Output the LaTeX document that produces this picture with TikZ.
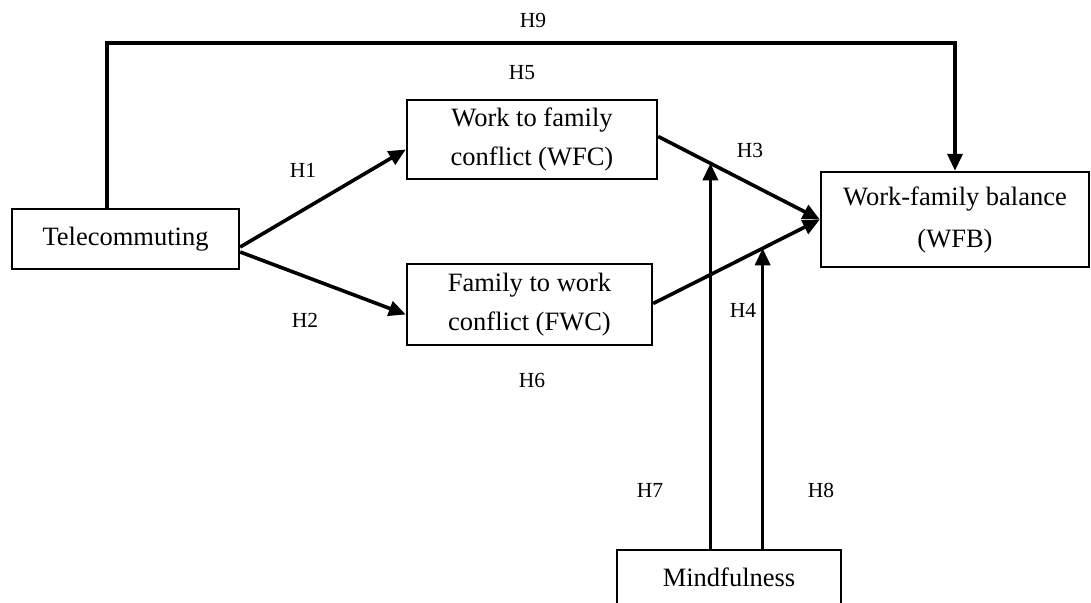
\documentclass[tikz,border=0pt]{standalone}
\usepackage{fontspec}
\setmainfont{Liberation Serif}
\usepackage{tikz}
\usetikzlibrary{arrows.meta}

\begin{document}
\begin{tikzpicture}[x=1pt,y=-1pt,
    box/.style={draw,line width=2.4pt,align=center,inner sep=0pt,
        font=\fontsize{26.5}{39}\selectfont},
    hyp/.style={font=\fontsize{21.5}{24}\selectfont,inner sep=0pt},
    arr/.style={line width=3.6pt,-{Triangle[length=17pt,width=15pt]}}]
\useasboundingbox (0,0) rectangle (1091,602);
% constructs
\node[box,minimum width=227pt,minimum height=60pt] (tele) at (125.5,239) {Telecommuting};
\node[box,minimum width=250pt,minimum height=79pt] (wfc) at (532,139.5) {Work to family\\conflict (WFC)};
\node[box,minimum width=245pt,minimum height=81pt] (fwc) at (529.5,304.5) {Family to work\\conflict (FWC)};
\node[box,minimum width=268pt,minimum height=95pt,font=\fontsize{26.5}{42}\selectfont] (wfb) at (955,219.5) {Work-family balance\\(WFB)};
\node[box,minimum width=224pt,minimum height=54pt] (mind) at (729,577) {Mindfulness};
% paths
\coordinate (top) at (107,43);
\draw[arr] (tele.north -| top) -- (top) -| (wfb.north);
\draw[arr] ([yshift=-8pt]tele.east) -- ([yshift=-10pt]wfc.west);
\draw[arr] ([yshift=-13pt]tele.east) -- ([yshift=-10pt]fwc.west);
\draw[arr] ([yshift=3pt]wfc.east) -- coordinate[pos=0.323] (m3) (wfb.west);
\draw[arr] ([yshift=1pt]fwc.east) -- coordinate[pos=0.657] (m4) (wfb.west);
\draw[arr] (m3 |- mind.north) -- (m3);
\draw[arr] (m4 |- mind.north) -- (m4);
% hypotheses
\node[hyp] (h9) at (533,20) {H9};
\node[hyp] (h5) at (522,73) {H5};
\node[hyp] (h1) at (303,170) {H1};
\node[hyp] (h2) at (305,320) {H2};
\node[hyp] (h3) at (750,150) {H3};
\node[hyp] (h4) at (743,310) {H4};
\node[hyp] (h6) at (532,380) {H6};
\node[hyp] (h7) at (650,490) {H7};
\node[hyp] (h8) at (821,490) {H8};
\end{tikzpicture}
\end{document}
